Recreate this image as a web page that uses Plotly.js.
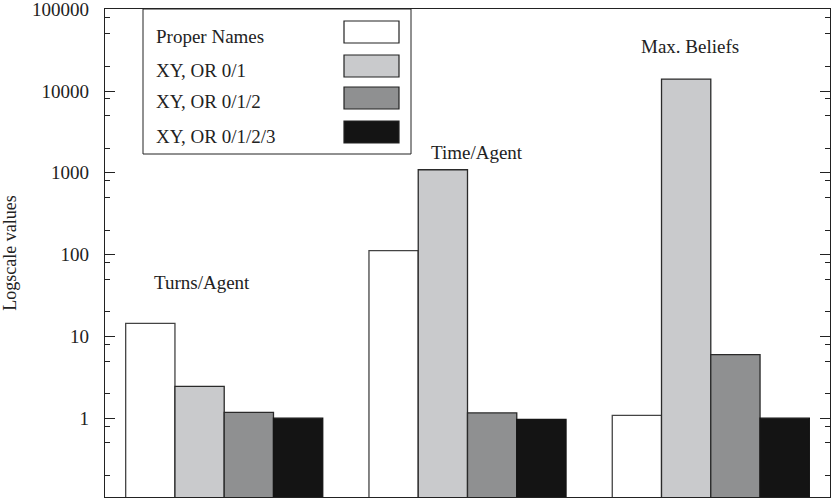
<!DOCTYPE html>
<html>
<head>
<meta charset="utf-8">
<script src="https://cdn.plot.ly/plotly-3.0.1.min.js"></script>
<style>html,body{margin:0;padding:0;background:#fff;}#chart{width:831px;height:499px;}</style>
</head>
<body>
<div id="chart"></div>
<script>
// ---- data ----
const categories = ["Turns/Agent", "Time/Agent", "Max. Beliefs"];
const seriesNames = ["Proper Names", "XY, OR 0/1", "XY, OR 0/1/2", "XY, OR 0/1/2/3"];
const properNames = [14.4, 112, 1.08];
const xyOr01 = [2.45, 1090, 14000];
const xyOr012 = [1.18, 1.16, 6.0];
const xyOr0123 = [1.0, 0.97, 1.0];
const yTickVals = [1, 10, 100, 1000, 10000, 100000];
const yTickText = ["1", "10", "100", "1000", "10000", "100000"];

const seriesValues = [properNames, xyOr01, xyOr012, xyOr0123];
const fills = ["#ffffff", "#c9cacc", "#8f9091", "#141414"];
const edges = ["#444444", "#2a2a2a", "#2a2a2a", "#141414"];

const traces = seriesValues.map((vals, i) => ({
  type: "bar",
  name: seriesNames[i],
  x: categories,
  y: vals,
  marker: {color: fills[i], line: {color: edges[i], width: 1.3}},
  showlegend: false,
  hoverinfo: "none"
}));

// plot area geometry (px) for paper-coordinate helpers
const L = 105, R = 830, T = 9, B = 497;
const px = v => (v - L) / (R - L);
const py = v => 1 - (v - T) / (B - T);

const serif = "Liberation Serif, Times New Roman, serif";
const shapes = [];
const annotations = [];

// legend box
shapes.push({type: "rect", xref: "paper", yref: "paper",
  x0: px(143), x1: px(411), y0: py(154), y1: py(9),
  line: {color: "#222", width: 1}, fillcolor: "#fff", layer: "above"});
const swatchY = [32, 66, 98, 132];
const textY = [37, 70, 102, 136];
seriesNames.forEach((nm, i) => {
  shapes.push({type: "rect", xref: "paper", yref: "paper",
    x0: px(344), x1: px(399), y0: py(swatchY[i] + 11), y1: py(swatchY[i] - 11),
    line: {color: "#222", width: 1.2}, fillcolor: fills[i], layer: "above"});
  annotations.push({xref: "paper", yref: "paper", x: px(154), y: py(textY[i]),
    xanchor: "left", yanchor: "middle", text: nm, showarrow: false,
    font: {family: serif, size: 19, color: "#222"}});
});

// group labels
const labelPos = [[-0.09, 1.66], [1.037, 3.25], [1.914, 4.55]];
categories.forEach((c, i) => {
  annotations.push({xref: "x", yref: "y", x: labelPos[i][0], y: labelPos[i][1],
    xanchor: "center", yanchor: "middle", text: c, showarrow: false,
    font: {family: serif, size: 19, color: "#222"}});
});

// minor ticks at 0.2, 0.5, 0.8 of each decade (as seen in reference)
const minorVals = [];
for (let e = -1; e <= 4; e++) {
  [2, 5, 8].forEach(m => { const v = m * Math.pow(10, e); if (v > 0.11 && v < 100000) minorVals.push(v); });
}

const layout = {
  width: 831, height: 499,
  margin: {l: L, r: 831 - R, t: T, b: 499 - B, pad: 0},
  paper_bgcolor: "#fff", plot_bgcolor: "#fff",
  barmode: "group", bargap: 0.19, bargroupgap: 0,
  font: {family: serif, color: "#222"},
  xaxis: {
    type: "category", range: [-0.49, 2.49], showticklabels: false, ticks: "",
    showgrid: false, zeroline: false, showline: true, linecolor: "#222", linewidth: 1.2,
    mirror: true
  },
  yaxis: {
    type: "log", range: [Math.log10(0.1088), 5.003],
    tickvals: yTickVals, ticktext: yTickText,
    ticks: "inside", ticklen: 10, tickwidth: 1, tickcolor: "#222",
    minor: {tickvals: minorVals, ticks: "inside", ticklen: 5, tickcolor: "#222", tickwidth: 1, showgrid: false},
    showgrid: false, zeroline: false, showline: true, linecolor: "#222", linewidth: 1.2,
    mirror: "ticks",
    tickfont: {family: serif, size: 19, color: "#222"},
    ticklabelstandoff: 11,
    ticklabeloverflow: "allow",
    title: {text: "Logscale values", font: {family: serif, size: 18, color: "#222"}, standoff: 17}
  },
  shapes: shapes,
  annotations: annotations
};

Plotly.newPlot("chart", traces, layout, {displayModeBar: false, staticPlot: true});
</script>
</body>
</html>
